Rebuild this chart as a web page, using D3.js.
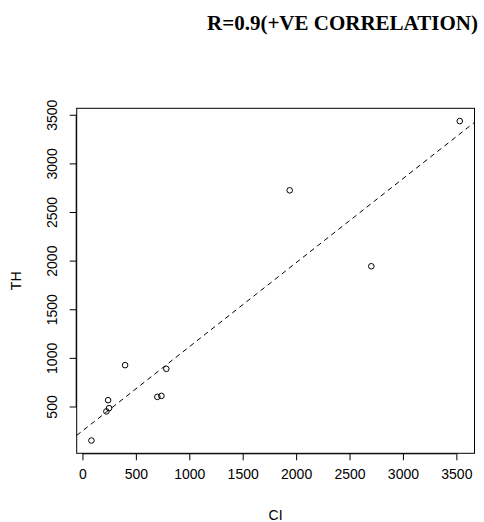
<!DOCTYPE html>
<html>
<head>
<meta charset="utf-8">
<script src="https://cdn.jsdelivr.net/npm/d3@7"></script>
<style>
  body { margin: 0; background: #fff; }
  svg text { font-family: "Liberation Sans", Arial, sans-serif; }
</style>
</head>
<body>
<div id="chart"></div>
<script>
// values
var ci = [84, 224, 240, 249, 399, 701, 739, 785, 1940, 2704, 3532];
var th = [150, 449, 565, 483, 925, 599, 609, 887, 2723, 1942, 3435];
var xTicks = [0, 500, 1000, 1500, 2000, 2500, 3000, 3500];
var yTicks = [500, 1000, 1500, 2000, 2500, 3000, 3500];

var W = 484, H = 522;
var plot = {left: 76.7, right: 474.5, top: 108.3, bottom: 453.3};

var svg = d3.select("#chart").append("svg")
    .attr("width", W).attr("height", H);

// R style: data range padded by 4% on each side
function padded(ext) {
    var d = (ext[1] - ext[0]) * 0.04;
    return [ext[0] - d, ext[1] + d];
}
var x = d3.scaleLinear().domain(padded(d3.extent(ci))).range([plot.left, plot.right]);
var y = d3.scaleLinear().domain(padded(d3.extent(th))).range([plot.bottom, plot.top]);
var fmt = d3.format("d");

// title
svg.append("text")
    .attr("x", 207).attr("y", 29.5)
    .style("font-family", "'Liberation Serif', 'Times New Roman', serif")
    .style("font-weight", "bold")
    .style("font-size", "21px")
    .text("R=0.9(+VE CORRELATION)");

// x axis
var xAxis = svg.append("g").attr("transform", "translate(0," + plot.bottom + ")")
    .call(d3.axisBottom(x).tickValues(xTicks).tickFormat(fmt).tickSize(7).tickPadding(9).tickSizeOuter(0));
xAxis.select(".domain").attr("d", "M" + x(xTicks[0]) + ",0.5H" + x(xTicks[xTicks.length - 1]));
xAxis.selectAll("text").style("font-size", "14px").style("font-family", "'Liberation Sans', Arial, sans-serif");

// y axis
var yAxis = svg.append("g").attr("transform", "translate(" + plot.left + ",0)")
    .call(d3.axisLeft(y).tickValues(yTicks).tickFormat(fmt).tickSize(7).tickSizeOuter(0));
yAxis.select(".domain").attr("d", "M-0.5," + y(yTicks[0]) + "V" + y(yTicks[yTicks.length - 1]));
yAxis.selectAll(".tick text")
    .attr("x", 0).attr("dy", null).attr("y", 0)
    .attr("transform", "translate(-19.5,0) rotate(-90)")
    .style("text-anchor", "middle")
    .style("font-size", "14px")
    .style("font-family", "'Liberation Sans', Arial, sans-serif");

// box
svg.append("rect")
    .attr("x", plot.left).attr("y", plot.top)
    .attr("width", plot.right - plot.left).attr("height", plot.bottom - plot.top)
    .attr("fill", "none").attr("stroke", "#000").attr("stroke-width", 1);

// axis titles
svg.append("text").attr("x", (plot.left + plot.right) / 2).attr("y", 520)
    .attr("text-anchor", "middle").style("font-size", "14px").text("CI");
svg.append("text")
    .attr("transform", "translate(21," + ((plot.top + plot.bottom) / 2) + ") rotate(-90)")
    .attr("text-anchor", "middle").style("font-size", "14px").text("TH");

// least squares fit line (abline), clipped to plot box
var mx = d3.mean(ci), my = d3.mean(th);
var sxy = d3.sum(ci, function(d, i) { return (d - mx) * (th[i] - my); });
var sxx = d3.sum(ci, function(d) { return (d - mx) * (d - mx); });
var slope = sxy / sxx, icpt = my - slope * mx;

svg.append("clipPath").attr("id", "clip").append("rect")
    .attr("x", plot.left).attr("y", plot.top)
    .attr("width", plot.right - plot.left).attr("height", plot.bottom - plot.top);

var xd = x.domain();
svg.append("line")
    .attr("clip-path", "url(#clip)")
    .attr("x1", x(xd[0])).attr("y1", y(icpt + slope * xd[0]))
    .attr("x2", x(xd[1])).attr("y2", y(icpt + slope * xd[1]))
    .attr("stroke", "#000").attr("stroke-width", 1)
    .attr("stroke-dasharray", "5,4");

// points
svg.selectAll("circle.pt").data(ci).enter().append("circle")
    .attr("class", "pt")
    .attr("cx", function(d) { return x(d); })
    .attr("cy", function(d, i) { return y(th[i]); })
    .attr("r", 2.8)
    .attr("fill", "none").attr("stroke", "#000").attr("stroke-width", 1);
</script>
</body>
</html>
